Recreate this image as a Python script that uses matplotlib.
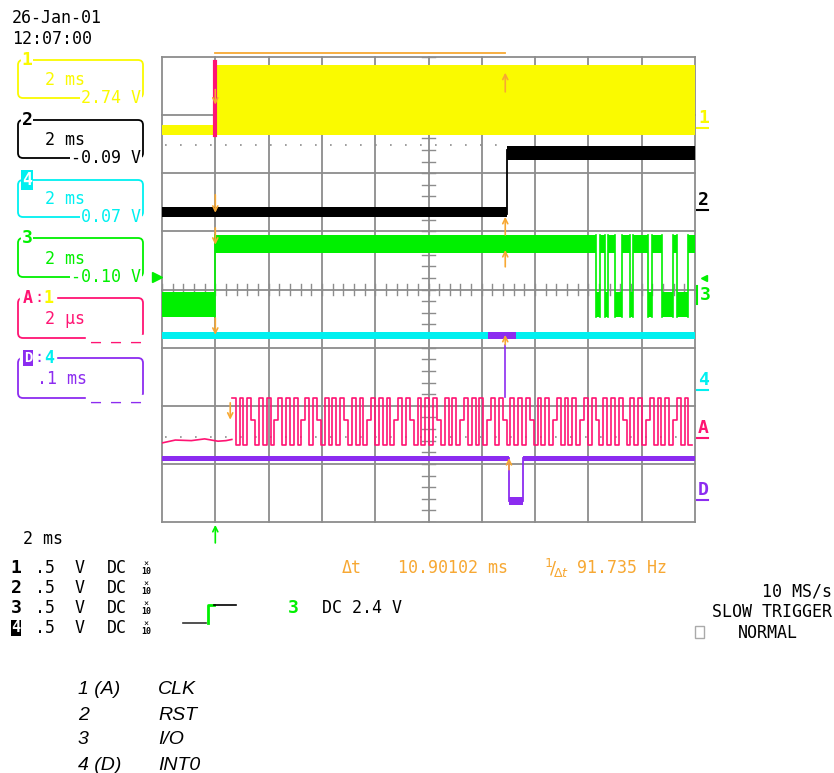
import numpy as np
import matplotlib.pyplot as plt
from matplotlib.patches import FancyBboxPatch, Rectangle

W, H = 834, 773

YEL = '#fafa00'
GRN = '#00f000'
CYN = '#00f0f0'
PNK = '#ff1473'
PUR = '#8c2cf0'
ORG = '#f7a833'
GRID = '#8c8c8c'
MONO = 'DejaVu Sans Mono'

# --- trace data (x in divisions at 2 ms/div, y in divisions from bottom) ---
# channel 1 (CLK, main timebase): thin band before the edge, dense band after
ch1_t = [0.0, 1.0, 10.0]
ch1_lo = [6.66, 6.66]
ch1_hi = [6.83, 7.87]

# channel 2 (RST): low band, step up at 6.47 div
ch2_t = [0.0, 6.47, 10.0]
ch2_lo = [5.25, 6.23]
ch2_hi = [5.42, 6.47]

# channel 3 (I/O): 0 = low band, 1 = high band
ch3_t = [0.0, 1.0, 8.14, 8.22, 8.31, 8.37, 8.50, 8.63, 8.78, 8.84,
         9.12, 9.19, 9.38, 9.59, 9.66, 9.87, 10.0]
ch3_state = [0, 1, 0, 1, 0, 1, 0, 1, 0, 1, 0, 1, 0, 1, 0, 1]
ch3_low_band = (3.53, 3.96)
ch3_high_band = (4.63, 4.94)

# channel 4 (INT0): flat band, with zoom window marker
ch4_band = (3.15, 3.27)
ch4_zoom_window = (6.12, 6.64)

# trace A (zoom of ch1, 2 us/div)
clkA_pre_t = [0.0, 0.25, 0.55, 0.8, 1.05, 1.2, 1.31]
clkA_pre_y = [1.36, 1.41, 1.40, 1.43, 1.39, 1.40, 1.42]
clkA_start, clkA_end = 1.31, 9.95
clkA_levels = ("HLHLHMLHLHLMHLHLHLMHLHMLHLHLHMLHLHLMHLHLHLMHLHMLHLHLHML"
               "HLHLMHLHLHLMHLHMLHLHLHMLHLHLMHLHLHLMHLHMLHLHLHMLHLHLMHL"
               "HLHLMHLHL")
clkA_map = {'H': 2.13, 'M': 1.76, 'L': 1.33}

# trace D (zoom of ch4, .1 ms/div)
intD_t = [0.0, 6.51, 6.77, 10.0]
intD_lo = [1.05, 0.29, 1.05]
intD_hi = [1.14, 0.43, 1.14]

# cursors
cursor_x = (1.0, 6.44)

fig = plt.figure(figsize=(W / 100, H / 100), dpi=100)
fig.patch.set_facecolor('white')

# pixel overlay for annotations
px = fig.add_axes([0, 0, 1, 1])
px.set_xlim(0, W)
px.set_ylim(H, 0)
px.axis('off')
px.patch.set_alpha(0)

ax = fig.add_axes([162 / W, (H - 522) / H, 533 / W, 465 / H])
ax.set_xlim(0, 10)
ax.set_ylim(0, 8)
ax.axis('off')

# graticule
for i in range(11):
    ax.plot([i, i], [0, 8], color=GRID, lw=1.3, clip_on=False, zorder=1)
for j in range(9):
    ax.plot([0, 10], [j, j], color=GRID, lw=1.3, clip_on=False, zorder=1)
for k in range(41):
    y = k * 0.2
    ax.plot([4.88, 5.12], [y, y], color=GRID, lw=1.0, zorder=1)
for k in range(51):
    x = k * 0.2
    ax.plot([x, x], [3.91, 4.09], color=GRID, lw=1.0, zorder=1)

# ground dots
ax.plot([0.05, 6.4], [6.49, 6.49], color=GRID, lw=1.2, ls=(0, (1, 8)), zorder=1)
ax.plot([0.05, 9.9], [1.46, 1.46], color=GRID, lw=1.2, ls=(0, (1, 8)), zorder=1)


def band(t, lo, hi, color, z=3):
    ax.fill_between(t, list(lo) + [lo[-1]], list(hi) + [hi[-1]],
                    step='post', color=color, lw=0, zorder=z)


# channel 1
band(ch1_t, ch1_lo, ch1_hi, YEL)
ax.plot([1.0, 1.0], [6.66, 7.92], color=PNK, lw=3, zorder=4)

# channel 2
band(ch2_t, ch2_lo, ch2_hi, 'black')
ax.plot([6.47, 6.47], [5.3, 6.4], color='black', lw=1.3, zorder=4)

# channel 3
lo3 = [ch3_high_band[0] if s else ch3_low_band[0] for s in ch3_state]
hi3 = [ch3_high_band[1] if s else ch3_low_band[1] for s in ch3_state]
band(ch3_t, lo3, hi3, GRN)
for t in ch3_t[1:-1]:
    ax.plot([t, t], [ch3_low_band[0], ch3_high_band[1]], color=GRN, lw=1.2, zorder=3)

# channel 4
ax.fill_between([0, 10], ch4_band[0], ch4_band[1], color=CYN, lw=0, zorder=3)
ax.fill_between(ch4_zoom_window, ch4_band[0], ch4_band[1], color=PUR, lw=0, zorder=4)

# trace A
ax.plot(clkA_pre_t, clkA_pre_y, color=PNK, lw=1.2, zorder=3)
ta = np.linspace(clkA_start, clkA_end, len(clkA_levels) + 1)
ya = [clkA_map[c] for c in clkA_levels]
ax.step(ta, ya + [ya[-1]], where='post', color=PNK, lw=1.2, zorder=3)

# trace D
band(intD_t, intD_lo, intD_hi, PUR)
for t in intD_t[1:-1]:
    ax.plot([t, t], [0.36, 1.1], color=PUR, lw=1.3, zorder=3)
ax.plot([6.44, 6.44], [2.15, 3.05], color=PUR, lw=1.2, zorder=3)

# cursor marks
ax.plot(cursor_x, [8.07, 8.07], color=ORG, lw=1.3, clip_on=False)


def arrow(x, tail, tip, color=ORG):
    ax.annotate('', xy=(x, tip), xytext=(x, tail), annotation_clip=False,
                arrowprops=dict(arrowstyle='->', color=color, lw=1.2,
                                shrinkA=0, shrinkB=0, mutation_scale=9), zorder=6)


for tail, tip in [(7.44, 7.18), (5.63, 5.32), (5.06, 4.77), (3.51, 3.22)]:
    arrow(cursor_x[0], tail, tip)
arrow(1.28, 2.05, 1.76)
for tail, tip in [(7.40, 7.73), (4.94, 5.25), (4.39, 4.68), (3.05, 3.22)]:
    arrow(cursor_x[1], tail, tip)
arrow(6.51, 0.9, 1.10)
arrow(1.0, -0.36, -0.05, GRN)
ax.plot([-0.1], [4.22], marker='>', color=GRN, ms=7, clip_on=False)

# right-hand trace labels
for txt, y, c in [('1', 118, YEL), ('2', 200, 'black'), ('4', 380, CYN),
                  ('A', 428, PNK), ('D', 490, PUR)]:
    px.text(698, y, txt, color=c, fontsize=13, family=MONO, fontweight='bold',
            va='center', ha='left')
    px.plot([697, 708], [y + 10, y + 10], color=c, lw=1.5)
px.text(700, 295, '3', color=GRN, fontsize=13, family=MONO, fontweight='bold',
        va='center', ha='left')
px.plot([697, 697], [286, 304], color=GRN, lw=1.5)
px.plot([704], [278], marker='<', color=GRN, ms=5)

# header
px.text(12, 18, '26-Jan-01', fontsize=12, family=MONO, va='center')
px.text(12, 39, '12:07:00', fontsize=12, family=MONO, va='center')

# channel boxes
boxes = [
    (60, 98, '2 ms', '2.74 V', YEL),
    (120, 158, '2 ms', '-0.09 V', 'black'),
    (180, 217, '2 ms', '0.07 V', CYN),
    (238, 277, '2 ms', '-0.10 V', GRN),
    (298, 338, '2 μs', '_ _ _', PNK),
    (358, 398, '.1 ms', '_ _ _', PUR),
]
for top, bot, mid, val, c in boxes:
    px.add_patch(FancyBboxPatch((18, top), 125, bot - top,
                                boxstyle='round,pad=0,rounding_size=5',
                                fill=False, ec=c, lw=1.3))
    mx = 37 if mid.startswith('.') else 45
    px.text(mx, (top + bot) / 2 + 1, mid, color=c, fontsize=12, family=MONO, va='center')
    if val.startswith('_'):
        px.add_patch(Rectangle((86, bot - 3), 58, 6, color='white', zorder=3))
        px.text(141, bot - 4, val, color=c, fontsize=12, family=MONO,
                va='center', ha='right', zorder=4)
    else:
        px.text(141, bot, val, color=c, fontsize=12, family=MONO, va='center',
                ha='right', zorder=4,
                bbox=dict(fc='white', ec='none', pad=0.5))

# box labels
px.text(27, 60, '1', color=YEL, fontsize=13, family=MONO, fontweight='bold',
        va='center', ha='center', bbox=dict(fc='white', ec='none', pad=0.3))
px.text(27, 120, '2', color='black', fontsize=13, family=MONO, fontweight='bold',
        va='center', ha='center', bbox=dict(fc='white', ec='none', pad=0.3))
px.text(27, 180, '4', color='white', fontsize=12, family=MONO, fontweight='bold',
        va='center', ha='center', bbox=dict(fc=CYN, ec='none', pad=0.5))
px.text(27, 238, '3', color=GRN, fontsize=13, family=MONO, fontweight='bold',
        va='center', ha='center', bbox=dict(fc='white', ec='none', pad=0.3))
px.add_patch(Rectangle((20, 292), 36, 12, color='white', zorder=3))
px.add_patch(Rectangle((20, 352), 36, 12, color='white', zorder=3))
px.text(23, 298, 'A', color=PNK, fontsize=12, family=MONO, fontweight='bold',
        va='center', ha='left', zorder=4)
px.text(34, 298, ':', color=PNK, fontsize=11, family=MONO, va='center', ha='left', zorder=4)
px.text(44, 298, '1', color=YEL, fontsize=12, family=MONO, fontweight='bold',
        va='center', ha='left', zorder=4)
px.text(24, 358, 'D', color='white', fontsize=10, family=MONO, fontweight='bold',
        va='center', ha='left', zorder=4, bbox=dict(fc=PUR, ec='none', pad=0.4))
px.text(34, 358, ':', color=PUR, fontsize=11, family=MONO, va='center', ha='left', zorder=4)
px.text(44, 358, '4', color=CYN, fontsize=12, family=MONO, fontweight='bold',
        va='center', ha='left', zorder=4)

# bottom status block
px.text(23, 539, '2 ms', fontsize=12, family=MONO, va='center')
for i, yy in enumerate([568, 588, 608, 628]):
    ch = str(i + 1)
    if i == 3:
        px.text(16, yy, ch, color='white', fontsize=11, family=MONO, fontweight='bold',
                va='center', ha='center', bbox=dict(fc='black', ec='none', pad=0.3))
    else:
        px.text(16, yy, ch, fontsize=13, family=MONO, fontweight='bold',
                va='center', ha='center')
    px.text(35, yy, '.5', fontsize=12, family=MONO, va='center')
    px.text(75, yy, 'V', fontsize=12, family=MONO, va='center')
    px.text(107, yy, 'DC', fontsize=12, family=MONO, va='center')
    px.text(146, yy - 4, '×', fontsize=6, family=MONO, va='center', ha='center')
    px.text(146, yy + 4, '10', fontsize=6, family=MONO, fontweight='bold',
            va='center', ha='center')

# trigger symbol
px.plot([183, 206], [623, 623], color='#333333', lw=1.2)
px.plot([208, 208, 214], [623, 605, 605], color=GRN, lw=2)
px.plot([214, 236], [605, 605], color='black', lw=1.2)
px.text(293, 608, '3', color=GRN, fontsize=13, family=MONO, fontweight='bold',
        va='center', ha='center')
px.text(322, 608, 'DC 2.4 V', fontsize=12, family=MONO, va='center')

# cursor readout
px.text(342, 568, 'Δt', color=ORG, fontsize=12, family=MONO, va='center')
px.text(398, 568, '10.90102 ms', color=ORG, fontsize=12, family=MONO, va='center')
px.text(544, 568, r'$^{1}\!/\!_{\Delta t}$', color=ORG, fontsize=13, va='center')
px.text(577, 568, '91.735 Hz', color=ORG, fontsize=12, family=MONO, va='center')

# acquisition status
px.text(832, 592, '10 MS/s', fontsize=12, family=MONO, va='center', ha='right')
px.text(832, 612, 'SLOW TRIGGER', fontsize=12, family=MONO, va='center', ha='right')
px.add_patch(Rectangle((695, 626), 9, 12, fill=False, ec='#aaaaaa', lw=1))
px.text(738, 633, 'NORMAL', fontsize=12, family=MONO, va='center')

# signal legend
sig_ids = ['1 (A)', '2', '3', '4 (D)']
sig_names = ['CLK', 'RST', 'I/O', 'INT0']
for i, (sid, name) in enumerate(zip(sig_ids, sig_names)):
    yy = 690 + 25 * i
    px.text(78, yy, sid, fontsize=14, family='Liberation Sans', style='italic', va='center')
    px.text(158, yy, name, fontsize=14, family='Liberation Sans', style='italic', va='center')

fig.savefig('out.png', dpi=100)
